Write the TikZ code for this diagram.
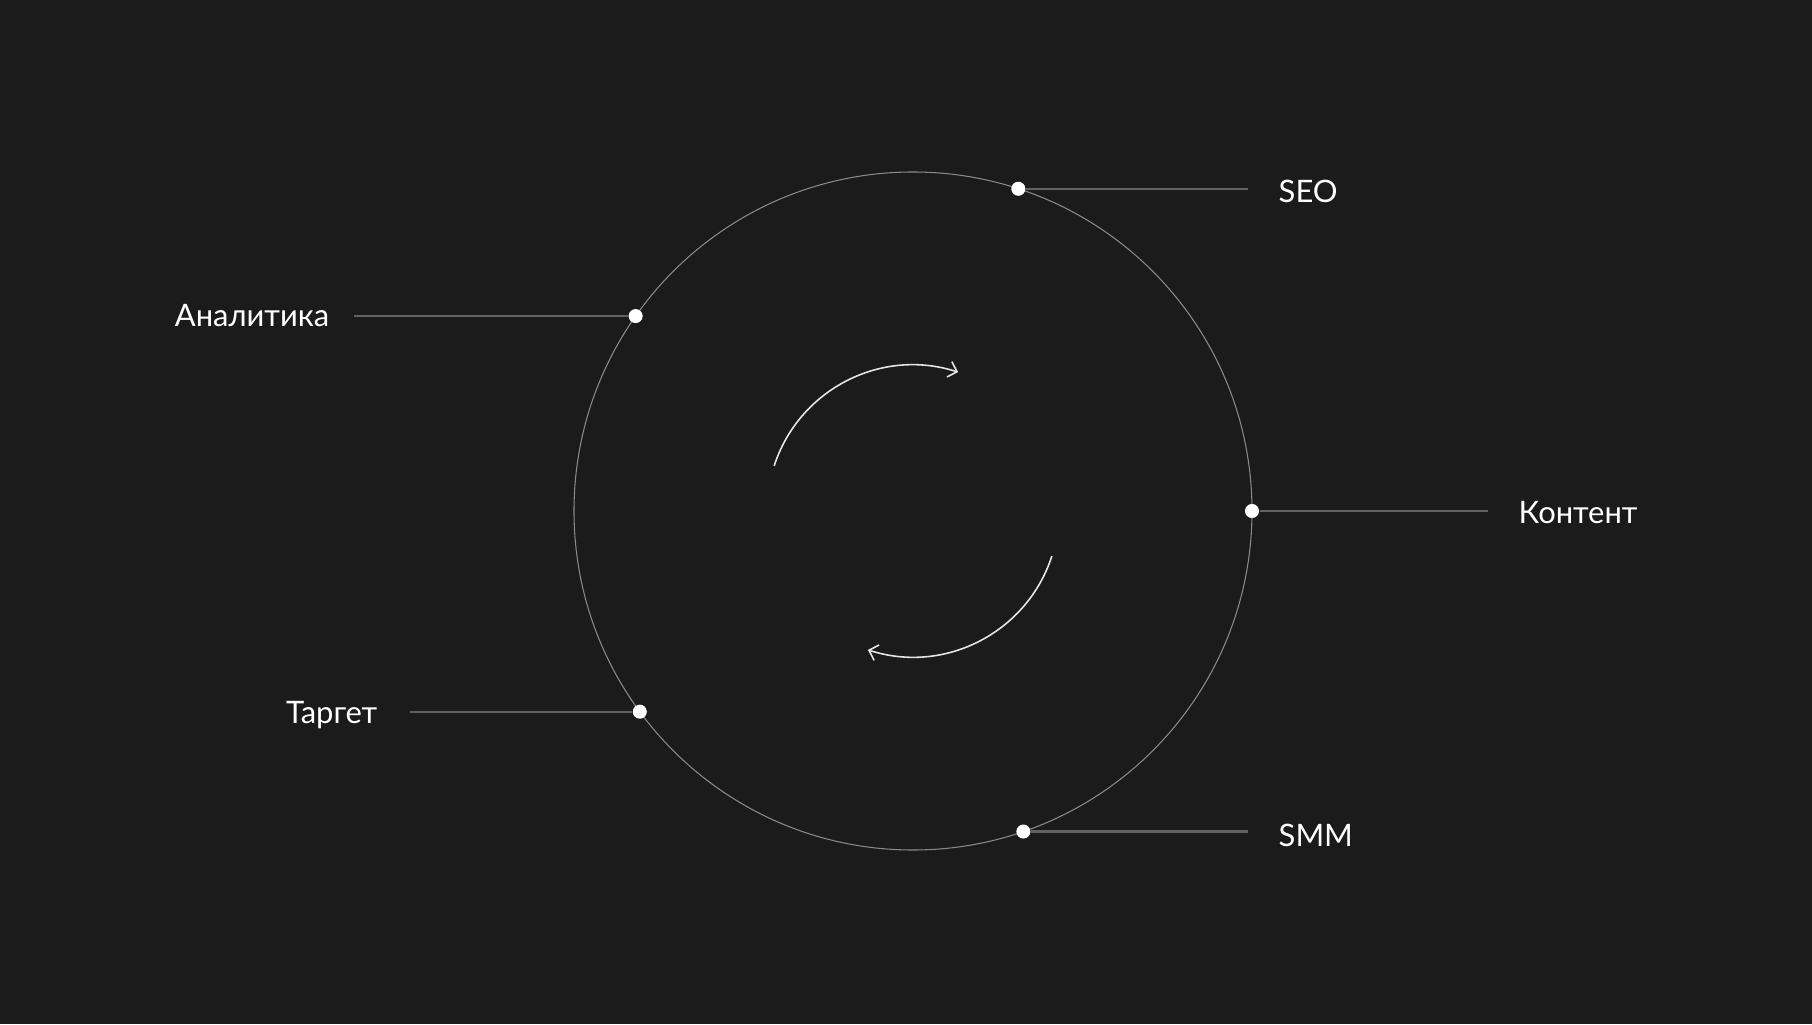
\documentclass[tikz,border=0pt]{standalone}
\usepackage{fontspec}
\setmainfont{Lato}
\usetikzlibrary{arrows.meta}

\definecolor{bgdark}{HTML}{1B1B1B}
\definecolor{ringgray}{HTML}{8A8A8A}
\definecolor{leadgray}{HTML}{626262}
\definecolor{arcwhite}{HTML}{E6E6E6}

\tikzset{
  ring/.style={draw=ringgray, line width=0.3pt},
  dot/.style={circle, fill=white, inner sep=0pt, minimum size=4pt},
  leader/.style={draw=leadgray, line width=0.65pt},
  lbl/.style={text=white, inner sep=0pt, font=\fontsize{8.8}{10}\selectfont},
  turn/.style={draw=arcwhite, line width=0.45pt, -{Straight Barb[length=2.3pt,width=4.6pt]}}
}

\begin{document}
\begin{tikzpicture}[x=0.1mm, y=0.1mm]

\fill[bgdark] (-913,-513) rectangle (899,511);

\coordinate (c) at (0,0);
\draw[ring] (c) circle[radius=339];

% turning arrows
\draw[turn] (162:146) arc[start angle=162, end angle=72, radius=146];
\draw[turn] (342:146) arc[start angle=342, end angle=252, radius=146];

% points on the ring
\node[dot] (seo) at (71.9:339) {};
\node[dot] (analytics) at (144.9:339) {};
\node[dot] (content) at (0:339) {};
\node[dot] (target) at (216.3:339) {};
\node[dot] (smm) at (289:339) {};

\coordinate (seo-end) at (335,0 |- seo);
\coordinate (analytics-end) at (-559,0 |- analytics);
\coordinate (content-end) at (575,0 |- content);
\coordinate (target-end) at (-503,0 |- target);
\coordinate (smm-end) at (335,0 |- smm);

\draw[leader] (seo) -- (seo-end);
\draw[leader] (analytics) -- (analytics-end);
\draw[leader] (content) -- (content-end);
\draw[leader] (target) -- (target-end);
\draw[leader] (smm) -- (smm-end);

\node[lbl, anchor=base west] (seo-txt) at (365,308) {SEO};
\node[lbl, anchor=base east] (analytics-txt) at (-583,184) {Аналитика};
\node[lbl, anchor=base west] (content-txt) at (605,-12) {Контент};
\node[lbl, anchor=base east] (target-txt) at (-535,-212) {Таргет};
\node[lbl, anchor=base west] (smm-txt) at (365,-335) {SMM};

\end{tikzpicture}
\end{document}
